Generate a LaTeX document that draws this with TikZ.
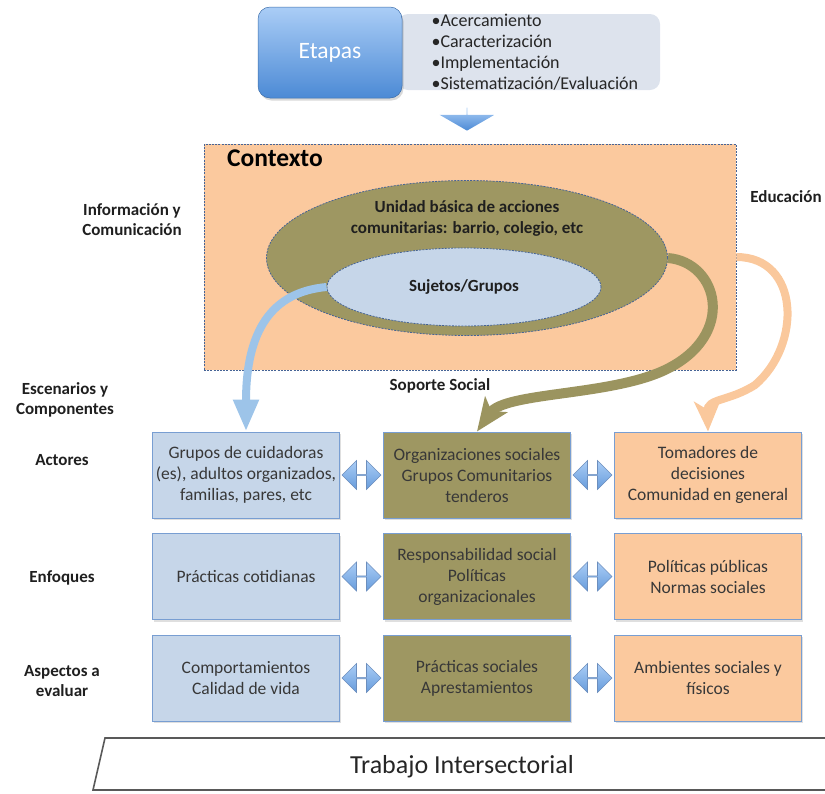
\documentclass[tikz,border=0pt]{standalone}
\usepackage{fontspec}
\setmainfont{Carlito}
\usepackage{xcolor}
\usepackage{tikz}
\usetikzlibrary{shapes.geometric,shapes.arrows,arrows.meta,positioning,calc,shadows}

\definecolor{skyfill}{RGB}{198,214,233}
\definecolor{olivefill}{RGB}{158,151,98}
\definecolor{peachfill}{RGB}{251,201,158}
\definecolor{boxline}{RGB}{120,158,210}
\definecolor{ctxline}{RGB}{70,100,150}
\definecolor{listfill}{RGB}{221,227,237}
\definecolor{etapastop}{RGB}{170,205,246}
\definecolor{etapasbot}{RGB}{76,138,213}
\definecolor{arrblue}{RGB}{157,196,233}
\definecolor{arrolive}{RGB}{155,148,95}
\definecolor{arrpeach}{RGB}{250,200,156}

\begin{document}
\begin{tikzpicture}[
  x=1pt,y=-1pt,
  font=\fontsize{17.5}{21}\selectfont,
  box/.style={draw=boxline,line width=1pt,align=center,text=black!78,minimum width=187pt,minimum height=86pt,inner sep=2pt,
    drop shadow={shadow xshift=1.5pt,shadow yshift=-2pt,opacity=0.25}},
  cuid/.style={box,fill=skyfill},
  orgs/.style={box,fill=olivefill},
  deci/.style={box,fill=peachfill},
  lbl/.style={font=\bfseries\fontsize{17}{20}\selectfont,align=center,text=black!88},
  dots/.style={draw=ctxline,line width=0.8pt,dash pattern=on 2pt off 1.2pt},
  dbl/.style={double arrow,double arrow head extend=6pt,minimum height=39pt,minimum width=29pt,inner sep=0pt,
    draw=boxline!90!black,line width=0.6pt,top color=etapastop,bottom color=etapasbot!85},
  bluearr/.style={draw=arrblue,line width=8pt,-{Triangle[width=24pt,length=32pt]}},
  olivearr/.style={draw=arrolive,line width=10pt,-{Stealth[width=27pt,length=33pt,inset=8pt]}},
  peacharr/.style={draw=arrpeach,line width=8pt,-{Stealth[width=26pt,length=30pt,inset=8pt]}},
  node distance=14.5pt and 43pt
]
\useasboundingbox (0,0) rectangle (825,793);

\node[fill=listfill,rounded corners=10pt,minimum width=262pt,minimum height=76pt] (pasos) at (529,52) {};
\node[anchor=west,align=left,text=black!85,font=\fontsize{18}{21}\selectfont] (lista) at (428,52.5)
  {•Acercamiento\\•Caracterización\\•Implementación\\•Sistematización/Evaluación};
\node[rounded corners=12pt,minimum width=144pt,minimum height=91pt,draw=etapasbot!80!black,line width=0.5pt,
  top color=etapastop,bottom color=etapasbot,text=white,font=\fontsize{23.5}{26}\selectfont,
  drop shadow={shadow xshift=1.5pt,shadow yshift=-2.5pt,opacity=0.3}] (etapas) at (330,52.5) {Etapas};
\node[single arrow,shape border rotate=270,single arrow head extend=12pt,single arrow tip angle=120,
  minimum height=23pt,minimum width=55pt,inner sep=0pt,top color=etapastop,bottom color=etapasbot] (bajada) at (467,119) {};

\node[fill=peachfill,dots,minimum width=532pt,minimum height=226pt] (ctx) at (470,257) {};
\node[font=\bfseries\fontsize{25.5}{28}\selectfont,anchor=north west] (ctxtxt) at ($(ctx.north west)+(20,3)$) {Contexto};
\node[ellipse,fill=olivefill,dots,minimum width=401pt,minimum height=155pt] (unidad) at (467,258) {};
\node[lbl,font=\bfseries\fontsize{17}{21}\selectfont,below=17pt of unidad.north] (unidadtxt)
  {Unidad básica de acciones\\comunitarias: barrio, colegio, etc};
\node[ellipse,fill=skyfill,dots,minimum width=274pt,minimum height=78pt,lbl] (sujetos) at (464,287) {Sujetos/Grupos};

\node[lbl] (info) at (132,220) {Información y\\Comunicación};
\node[lbl] (educ) at (786,197) {Educación};
\node[lbl] (escen) at (65,400) {Escenarios y\\Componentes};
\node[lbl] (soporte) at (440,386) {Soporte Social};

\node[cuid] (act1) at (246,475) {Grupos de cuidadoras\\(es), adultos organizados,\\familias, pares, etc};
\node[orgs,right=of act1] (act2) {Organizaciones sociales\\Grupos Comunitarios\\tenderos};
\node[deci,right=of act2] (act3) {Tomadores de\\decisiones\\Comunidad en general};
\node[cuid,below=of act1] (enf1) {Prácticas cotidianas};
\node[orgs,below=of act2] (enf2) {Responsabilidad social\\Políticas\\organizacionales};
\node[deci,below=of act3] (enf3) {Políticas públicas\\Normas sociales};
\node[cuid,below=of enf1] (asp1) {Comportamientos\\Calidad de vida};
\node[orgs,below=of enf2] (asp2) {Prácticas sociales\\Aprestamientos};
\node[deci,below=of enf3] (asp3) {Ambientes sociales y\\físicos};

\node[lbl] (actores) at (62,460) {Actores};
\node[lbl] (enfoques) at (62,578) {Enfoques};
\node[lbl] (aspectos) at (62,681) {Aspectos a\\evaluar};

\node[dbl] (d1) at ($(act1.east)!0.5!(act2.west)$) {};
\node[dbl] (d2) at ($(act2.east)!0.5!(act3.west)$) {};
\node[dbl] (d3) at ($(enf1.east)!0.5!(enf2.west)$) {};
\node[dbl] (d4) at ($(enf2.east)!0.5!(enf3.west)$) {};
\node[dbl] (d5) at ($(asp1.east)!0.5!(asp2.west)$) {};
\node[dbl] (d6) at ($(asp2.east)!0.5!(asp3.west)$) {};

\draw[bluearr] (sujetos.west) .. controls (272,292) and (246,330) .. (act1.north);
\draw[olivearr] (unidad.east) .. controls (718,262) and (738,335) .. (665,370) .. controls (610,396) and (505,392) .. (act2.north);
\draw[peacharr] (ctx.east) .. controls (800,257) and (802,345) .. (755,385) .. controls (728,402) and (707,398) .. (act3.north);

\node[font=\fontsize{26}{28}\selectfont,text=black!85] (trab) at (462,767) {Trabajo Intersectorial};
\draw[line width=1.6pt,draw=black!65] (825,738) -- (105,738) -- (93,790) -- (825,790);
\end{tikzpicture}
\end{document}
